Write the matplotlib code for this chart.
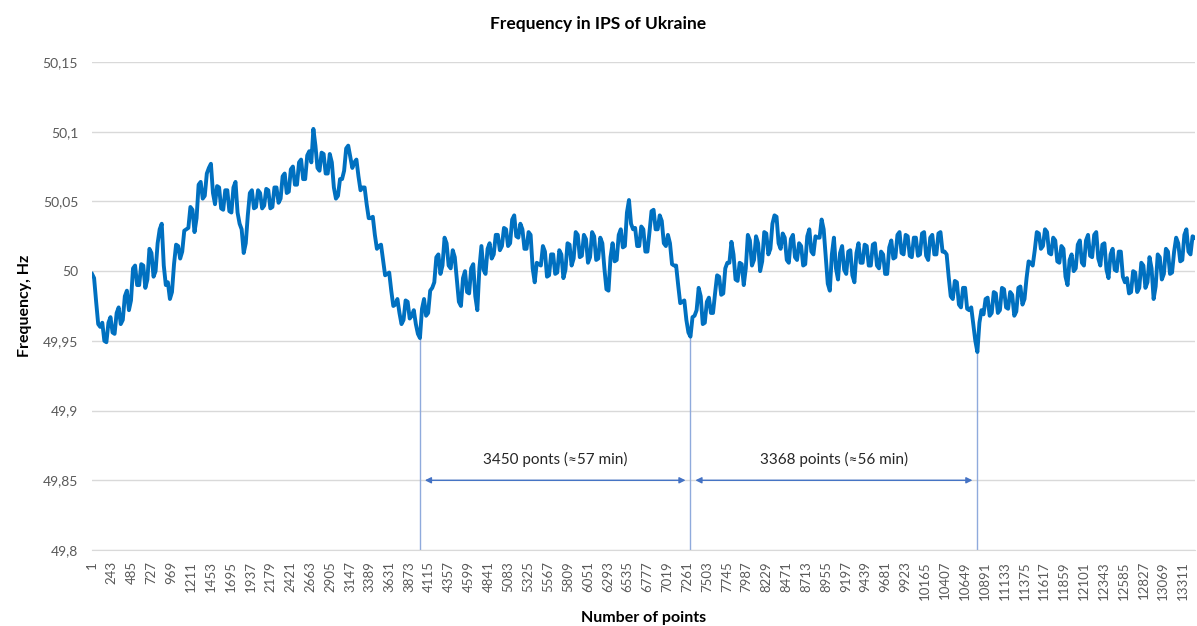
import numpy as np
import matplotlib
matplotlib.use("Agg")
import matplotlib.pyplot as plt

plt.rcParams['font.family'] = ['Lato', 'DejaVu Sans']

# frequency readings at points 1, 51, 101, ...
freq = [
    49.998, 49.978, 49.960, 49.950, 49.963, 49.956, 49.970, 49.962, 49.982, 49.972,
    50.002, 49.990, 50.005, 49.988, 50.016, 49.996, 50.020, 50.034, 49.990, 49.980,
    50.005, 50.018, 50.014, 50.030, 50.046, 50.028, 50.062, 50.052, 50.070, 50.077,
    50.048, 50.060, 50.044, 50.058, 50.042, 50.064, 50.034, 50.013, 50.040, 50.058,
    50.046, 50.056, 50.047, 50.058, 50.046, 50.060, 50.052, 50.070, 50.057, 50.075,
    50.062, 50.080, 50.066, 50.086, 50.102, 50.074, 50.085, 50.070, 50.084, 50.060,
    50.054, 50.066, 50.088, 50.082, 50.078, 50.068, 50.060, 50.048, 50.038, 50.026,
    50.018, 50.008, 49.998, 49.986, 49.976, 49.970, 49.965, 49.978, 49.968, 49.962,
    49.952, 49.980, 49.970, 49.988, 50.010, 49.998, 50.024, 50.004, 50.015, 49.994,
    49.975, 50.000, 49.984, 50.005, 49.972, 50.018, 49.998, 50.020, 50.012, 50.026,
    50.018, 50.030, 50.020, 50.040, 50.024, 50.030, 50.016, 50.026, 49.992, 50.005,
    50.018, 49.996, 50.012, 49.998, 50.015, 49.995, 50.020, 50.004, 50.028, 50.010,
    50.026, 50.006, 50.028, 50.008, 50.024, 50.002, 49.986, 50.020, 50.008, 50.030,
    50.018, 50.051, 50.030, 50.018, 50.032, 50.014, 50.028, 50.044, 50.030, 50.036,
    50.018, 50.020, 50.004, 49.990, 49.978, 49.965, 49.953, 49.968, 49.988, 49.962,
    49.978, 49.970, 49.984, 49.996, 49.984, 50.006, 50.021, 49.994, 50.006, 49.990,
    50.026, 50.004, 50.025, 50.000, 50.028, 50.012, 50.034, 50.039, 50.016, 50.024,
    50.006, 50.026, 50.008, 50.018, 50.005, 50.030, 50.012, 50.024, 50.037, 50.010,
    49.986, 50.024, 49.994, 50.018, 49.998, 50.015, 49.992, 50.020, 50.006, 50.018,
    50.004, 50.020, 50.002, 50.012, 49.998, 50.022, 50.010, 50.028, 50.012, 50.025,
    50.010, 50.024, 50.012, 50.028, 50.008, 50.026, 50.012, 50.028, 50.014, 49.996,
    49.980, 49.992, 49.974, 49.988, 49.972, 49.962, 49.942, 49.972, 49.980, 49.968,
    49.985, 49.970, 49.988, 49.974, 49.985, 49.968, 49.988, 49.976, 49.995, 50.006,
    50.015, 50.027, 50.018, 50.028, 50.012, 50.022, 50.006, 50.016, 49.990, 50.012,
    50.002, 50.022, 50.004, 50.026, 50.010, 50.028, 50.004, 50.020, 49.995, 50.016,
    50.000, 50.014, 49.992, 49.984, 50.000, 49.985, 50.006, 49.988, 50.010, 49.980,
    50.012, 49.994, 50.016, 49.998, 50.014, 50.020, 50.008, 50.030, 50.012, 50.024,
]
# readings in between, at points 26, 76, 126, ...
freq_mid = [
    49.995, 49.962, 49.963, 49.949, 49.967, 49.955, 49.974, 49.965, 49.986, 49.979,
    50.004, 49.990, 50.004, 49.994, 50.013, 50.000, 50.030, 50.004, 49.992, 49.985,
    50.019, 50.009, 50.029, 50.031, 50.044, 50.038, 50.064, 50.054, 50.074, 50.056,
    50.061, 50.045, 50.058, 50.043, 50.060, 50.042, 50.030, 50.020, 50.056, 50.045,
    50.058, 50.045, 50.059, 50.045, 50.060, 50.049, 50.068, 50.056, 50.073, 50.062,
    50.078, 50.066, 50.083, 50.078, 50.090, 50.072, 50.084, 50.070, 50.078, 50.052,
    50.066, 50.072, 50.090, 50.074, 50.080, 50.058, 50.060, 50.038, 50.039, 50.016,
    50.019, 49.997, 49.999, 49.975, 49.980, 49.962, 49.979, 49.966, 49.972, 49.955,
    49.973, 49.968, 49.986, 49.992, 50.012, 50.004, 50.020, 50.002, 50.010, 49.978,
    49.995, 49.985, 50.002, 49.982, 50.002, 50.001, 50.016, 50.009, 50.026, 50.015,
    50.031, 50.018, 50.037, 50.025, 50.034, 50.016, 50.028, 50.002, 50.006, 50.004,
    50.014, 49.997, 50.012, 49.999, 50.012, 50.001, 50.019, 50.009, 50.026, 50.011,
    50.023, 50.010, 50.025, 50.009, 50.020, 49.987, 50.010, 50.007, 50.026, 50.017,
    50.042, 50.034, 50.031, 50.018, 50.030, 50.014, 50.043, 50.030, 50.040, 50.020,
    50.026, 50.005, 50.004, 49.977, 49.979, 49.956, 49.967, 49.972, 49.982, 49.963,
    49.981, 49.970, 49.997, 49.983, 50.002, 50.006, 50.012, 49.993, 50.005, 50.002,
    50.022, 50.008, 50.020, 50.007, 50.027, 50.016, 50.040, 50.020, 50.027, 50.008,
    50.023, 50.010, 50.020, 50.004, 50.025, 50.014, 50.025, 50.024, 50.030, 49.991,
    50.012, 50.002, 50.013, 50.001, 50.014, 49.997, 50.013, 50.006, 50.019, 50.004,
    50.019, 50.004, 50.014, 49.998, 50.017, 50.009, 50.026, 50.013, 50.026, 50.011,
    50.024, 50.011, 50.027, 50.011, 50.024, 50.012, 50.027, 50.014, 50.012, 49.982,
    49.993, 49.976, 49.988, 49.973, 49.974, 49.950, 49.963, 49.969, 49.981, 49.970,
    49.984, 49.972, 49.987, 49.973, 49.983, 49.971, 49.989, 49.980, 50.007, 50.004,
    50.028, 50.016, 50.030, 50.013, 50.024, 50.007, 50.018, 49.996, 50.008, 50.000,
    50.019, 50.006, 50.022, 50.011, 50.026, 50.009, 50.019, 50.001, 50.012, 50.001,
    50.014, 49.996, 49.995, 49.985, 49.999, 49.988, 50.004, 49.992, 50.002, 49.989,
    50.010, 49.998, 50.014, 49.999, 50.024, 50.007, 50.026, 50.014, 50.025,
]
step = 50

tick_points = list(range(1, 13312, 242))
y_ticks = [49.8, 49.85, 49.9, 49.95, 50.0, 50.05, 50.1, 50.15]
y_labels = ["49,8", "49,85", "49,9", "49,95", "50", "50,05", "50,1", "50,15"]

# period markers (point numbers of the minima) and their labels
minima = [4001, 7301, 10801]
spans = ["3450 ponts (\u224857 min)", "3368 points (\u224856 min)"]

# merge both sets of readings in point order
vals = np.empty(len(freq) + len(freq_mid))
vals[0::2] = freq
vals[1::2] = freq_mid
points = 1 + (step // 2) * np.arange(len(vals))

fig = plt.figure(figsize=(11.97, 6.26), dpi=100)
ax = fig.add_axes([0.0769, 0.1214, 0.9211, 0.7796])

ax.plot(points, vals, color="#0070C0", lw=2.8, solid_joinstyle="round", zorder=3)

ax.set_xlim(1, points[-1])
ax.set_ylim(49.8, 50.15)
ax.set_yticks(y_ticks)
ax.set_yticklabels(y_labels)
ax.set_xticks(tick_points)
ax.set_xticklabels([str(t) for t in tick_points], rotation=90)
ax.tick_params(axis="both", length=0, colors="#595959", labelsize=9.5)
ax.tick_params(axis="y", pad=10, labelsize=10)
ax.tick_params(axis="x", pad=8)
ax.grid(axis="y", color="#D9D9D9", lw=1)
ax.set_axisbelow(True)
for s in ["top", "right", "left"]:
    ax.spines[s].set_visible(False)
ax.spines["bottom"].set_color("#D9D9D9")

# vertical markers at the minima
for m in minima:
    v = freq[(m - 1) // step]
    ax.plot([m, m], [49.8, v], color="#8FAADC", lw=1, zorder=2)

# arrows between the minima
gap = 60
for i, txt in enumerate(spans):
    a, b = minima[i], minima[i + 1]
    ax.annotate("", xy=(b - gap, 49.85), xytext=(a + gap, 49.85),
                arrowprops=dict(arrowstyle="<|-|>", color="#4472C4", lw=1,
                                mutation_scale=9, shrinkA=0, shrinkB=0))
    ax.text((a + b) / 2, 49.865, txt, ha="center", va="center",
            fontsize=11, color="#262626")

ax.set_xlabel("Number of points", fontsize=11.5, fontweight="bold", labelpad=8)
ax.set_ylabel("Frequency, Hz", fontsize=11.5, fontweight="bold", labelpad=8)
fig.text(0.5, 0.962, "Frequency in IPS of Ukraine", ha="center", va="center",
         fontsize=12.5, fontweight="bold")

fig.savefig("out.png", dpi=100, facecolor="white")
